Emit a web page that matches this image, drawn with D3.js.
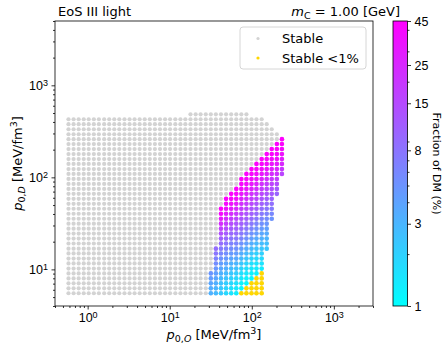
<!DOCTYPE html>
<html>
<head>
<meta charset="utf-8">
<script src="https://cdnjs.cloudflare.com/ajax/libs/d3/7.8.5/d3.min.js"></script>
<style>
body{margin:0;background:#fff}
svg{display:block;font-family:"DejaVu Sans",sans-serif}
</style>
</head>
<body>
<svg id="chart"></svg>
<script>
//grid of central pressures, MeV/fm^3
var pO = [0.584,0.674,0.777,0.896,1.03,1.19,1.37,1.59,1.83,2.11,2.43,2.81,3.24,3.73,4.30,4.96,5.72,6.60,7.61,8.78,
	10.1,11.7,13.5,15.5,17.9,20.7,23.8,27.5,31.7,36.5,42.1,48.6,56.1,64.7,74.6,86.0,99.2,114,132,152,175,202,233];
var pD = [5.50,6.22,7.05,7.98,9.04,10.2,11.6,13.1,14.9,16.8,19.1,21.6,24.5,27.7,31.4,35.5,40.2,45.6,51.6,58.4,
	66.2,74.9,84.9,96.1,109,123,140,158,179,203,230,260,294,333,378,428,484];
//stable region: lowest / highest pD index for each pO column
var stableLo = [0,0,0,0,0,0,0,0,0,0,0,0,0,0,0,0,0,0,0,0,0,0,0,0,0,0,0,0,0,0,0,0,0,0,0,0,0,0,0,9,15,20,24];
var stableHi = [35,35,35,35,35,35,35,35,35,35,35,35,35,35,35,35,35,35,35,35,35,35,35,35,36,36,36,36,36,36,36,36,36,36,36,36,35,35,35,34,33,32,31];
//fraction of DM (%), columns with DM, bottom -> top
var dmCol = [28,29,30,31,32,33,34,35,36,37,38,39,40,41,42];
var dmLo = [0,0,0,0,0,0,1,2,3,4,5,9,15,20,24];
var dmFrac = [
	[3.2,3.4,3.8,4.3,4.9],
	[2.8,3.0,3.3,3.7,4.2,4.8,5.6,6.6,7.8,9],
	[2.2,2.3,2.5,2.8,3.2,3.7,4.3,5.1,6.1,7.4,9,11,14,18,24,32,40,45],
	[1.8,1.9,2.1,2.4,2.8,3.3,3.9,4.6,5.5,6.6,8,9.6,12,15,19,24,30,36,41,45],
	[1.5,1.6,1.8,2.0,2.3,2.7,3.2,3.8,4.6,5.5,6.6,8,9.6,12,15,19,24,30,36,41,45],
	[1.3,1.4,1.6,1.8,2.1,2.5,3.0,3.6,4.3,5.2,6.3,7.6,9.2,11,13,16,20,25,31,37,42,45],
	[1.1,1.2,1.4,1.6,1.9,2.3,2.8,3.4,4.2,5.2,6.3,7.6,9.2,11,13,16,19,23,28,33,38,42,45],
	[1.1,1.2,1.4,1.6,1.9,2.3,2.8,3.4,4.2,5.2,6.3,7.6,9.2,11,13,16,19,23,28,33,38,42,45],
	[1.1,1.2,1.4,1.6,1.9,2.3,2.8,3.4,4.2,5.2,6.3,7.6,9.2,11,13,16,19,23,28,33,38,42,45],
	[1.2,1.3,1.5,1.7,2.0,2.4,2.9,3.5,4.3,5.2,6.3,7.6,9.2,11,13,16,19,23,28,33,38,42,45],
	[1.3,1.5,1.7,2.0,2.3,2.7,3.2,3.8,4.5,5.3,6.3,7.5,9,11,13,16,19,23,28,33,38,42,45],
	[2.3,2.6,3.0,3.5,4.1,4.8,5.6,6.6,7.8,9.2,11,13,16,19,23,28,33,38,42,45],
	[5,6,7.2,8.6,10,12,14,17,20,24,29,34,39,43,45],
	[10,12,15,18,22,26,31,36,40,43,45],
	[16,20,25,30,35,40,43,45]
];
//stable with <1% DM
var lowCol = [34,35,36,37,38];
var lowHi = [0,1,2,3,4];
var cbTicks = [1,3,8,15,25,45];
var cbMinor = [2,4,5,6,7,9,20,30,40];
var xMajor = [1,10,100,1000];
var yMajor = [10,100,1000];
var legendLabels = ['Stable','Stable <1%'];

/*********layout************/
var width = 448, height = 351;
var plot = {left:55,right:373,top:21,bottom:306};
var cb = {left:393,width:14.5};
var svg = d3.select('#chart').attr('width',width).attr('height',height);
var x = d3.scaleLog().domain([0.4,3000]).range([plot.left,plot.right]);
var y = d3.scaleLog().domain([4,5000]).range([plot.bottom,plot.top]);
var cpos = d3.scaleLog().domain([1,45]).range([0,1]);
var cmap = d3.interpolateRgb('#00ffff','#ff00ff');
var cbY = d3.scaleLog().domain([1,45]).range([plot.bottom,plot.top]);

function minorTicks(lo,hi){
	var out = [];
	for(var e=Math.floor(Math.log10(lo));e<=Math.ceil(Math.log10(hi));e++){
		for(var m=2;m<10;m++){var v=m*Math.pow(10,e);if(v>=lo&&v<=hi)out.push(v);}
	}
	return out;
}
function pow10(sel){
	sel.each(function(d){
		var t = d3.select(this).text(null);
		t.append('tspan').text('10');
		t.append('tspan').attr('dy','-0.45em').attr('font-size','0.72em').text(Math.round(Math.log10(d)));
	});
}
function tidy(g){
	g.select('.domain').remove();
	g.selectAll('.tick line').attr('stroke','#000').attr('stroke-width',0.8);
	g.selectAll('.tick text').attr('font-size',12.5).attr('fill','#000');
}

/*********points************/
var gPts = svg.append('g');
var grey = [];
stableLo.forEach(function(lo,i){
	for(var r=lo;r<=stableHi[i];r++)grey.push([pO[i],pD[r]]);
});
gPts.selectAll('.st').data(grey).enter().append('circle')
	.attr('cx',function(d){return x(d[0]);}).attr('cy',function(d){return y(d[1]);})
	.attr('r',2.1).attr('fill','#d3d3d3');
var dm = [];
dmCol.forEach(function(c,i){
	dmFrac[i].forEach(function(f,j){dm.push([pO[c],pD[dmLo[i]+j],f]);});
});
gPts.selectAll('.dm').data(dm).enter().append('circle')
	.attr('cx',function(d){return x(d[0]);}).attr('cy',function(d){return y(d[1]);})
	.attr('r',2.3).attr('fill',function(d){return cmap(cpos(d[2]));});
var low = [];
lowCol.forEach(function(c,i){
	for(var r=0;r<=lowHi[i];r++)low.push([pO[c],pD[r]]);
});
gPts.selectAll('.lo').data(low).enter().append('circle')
	.attr('cx',function(d){return x(d[0]);}).attr('cy',function(d){return y(d[1]);})
	.attr('r',2.3).attr('fill','#ffd700');

/*********axes************/
var axX = svg.append('g').attr('transform','translate(0,'+plot.bottom+')')
	.call(d3.axisBottom(x).tickValues(xMajor).tickSize(3.5).tickSizeOuter(0).tickPadding(3.5)).call(tidy);
axX.selectAll('.tick text').call(pow10);
svg.append('g').attr('transform','translate(0,'+plot.bottom+')')
	.call(d3.axisBottom(x).tickValues(minorTicks(0.4,3000)).tickSize(2).tickSizeOuter(0)).call(tidy)
	.selectAll('.tick text').remove();
var axY = svg.append('g').attr('transform','translate('+plot.left+',0)')
	.call(d3.axisLeft(y).tickValues(yMajor).tickSize(3.5).tickSizeOuter(0).tickPadding(3.5)).call(tidy);
axY.selectAll('.tick text').call(pow10);
svg.append('g').attr('transform','translate('+plot.left+',0)')
	.call(d3.axisLeft(y).tickValues(minorTicks(4,5000)).tickSize(2).tickSizeOuter(0)).call(tidy)
	.selectAll('.tick text').remove();
svg.append('rect').attr('x',plot.left).attr('y',plot.top)
	.attr('width',plot.right-plot.left).attr('height',plot.bottom-plot.top)
	.attr('fill','none').attr('stroke','#000').attr('stroke-width',0.8);

//axis labels
var xl = svg.append('text').attr('x',(plot.left+plot.right)/2).attr('y',339)
	.attr('text-anchor','middle').attr('font-size',13);
xl.append('tspan').attr('font-style','italic').text('p');
xl.append('tspan').attr('dy',3).attr('font-size',9.5).text('0,');
xl.append('tspan').attr('font-size',9.5).attr('font-style','italic').text('O');
xl.append('tspan').attr('dy',-3).text(' [MeV/fm');
xl.append('tspan').attr('dy',-5).attr('font-size',9.5).text('3');
xl.append('tspan').attr('dy',5).text(']');
var yl = svg.append('text').attr('transform','translate(22,'+(plot.top+plot.bottom)/2+') rotate(-90)')
	.attr('text-anchor','middle').attr('font-size',13);
yl.append('tspan').attr('font-style','italic').text('p');
yl.append('tspan').attr('dy',3).attr('font-size',9.5).text('0,');
yl.append('tspan').attr('font-size',9.5).attr('font-style','italic').text('D');
yl.append('tspan').attr('dy',-3).text(' [MeV/fm');
yl.append('tspan').attr('dy',-5).attr('font-size',9.5).text('3');
yl.append('tspan').attr('dy',5).text(']');

//titles
svg.append('text').attr('x',58).attr('y',16).attr('font-size',13).text('EoS III light');
var tr = svg.append('text').attr('x',400).attr('y',16).attr('text-anchor','end').attr('font-size',13);
tr.append('tspan').attr('font-style','italic').text('m');
tr.append('tspan').attr('dy',3).attr('font-size',9.5).text('C');
tr.append('tspan').attr('dy',-3).text(' = 1.00 [GeV]');

/*********legend************/
var lg = svg.append('g');
lg.append('rect').attr('x',240).attr('y',27).attr('width',126).attr('height',42).attr('rx',3)
	.attr('fill','#fff').attr('fill-opacity',0.8).attr('stroke','#cccccc').attr('stroke-width',0.8);
legendLabels.forEach(function(l,i){
	lg.append('circle').attr('cx',258).attr('cy',38.5+19.5*i).attr('r',1.6)
		.attr('fill',i==0?'#d3d3d3':'#ffd700');
	lg.append('text').attr('x',282).attr('y',43+19.5*i).attr('font-size',13).text(l);
});

/*********colorbar************/
var grad = svg.append('defs').append('linearGradient').attr('id','cool')
	.attr('x1',0).attr('y1',1).attr('x2',0).attr('y2',0);
grad.append('stop').attr('offset','0%').attr('stop-color',cmap(0));
grad.append('stop').attr('offset','100%').attr('stop-color',cmap(1));
svg.append('rect').attr('x',cb.left).attr('y',plot.top).attr('width',cb.width)
	.attr('height',plot.bottom-plot.top).attr('fill','url(#cool)')
	.attr('stroke','#000').attr('stroke-width',0.8);
svg.append('g').attr('transform','translate('+(cb.left+cb.width)+',0)')
	.call(d3.axisRight(cbY).tickValues(cbTicks).tickSize(3.5).tickSizeOuter(0).tickPadding(3.5).tickFormat(d3.format('d')))
	.call(tidy);
svg.append('g').attr('transform','translate('+(cb.left+cb.width)+',0)')
	.call(d3.axisRight(cbY).tickValues(cbMinor).tickSize(2).tickSizeOuter(0)).call(tidy)
	.selectAll('.tick text').remove();
svg.append('text').attr('transform','translate(433,'+(plot.top+plot.bottom)/2+') rotate(90)')
	.attr('text-anchor','middle').attr('font-size',11).text('Fraction of DM (%)');
</script>
</body>
</html>
